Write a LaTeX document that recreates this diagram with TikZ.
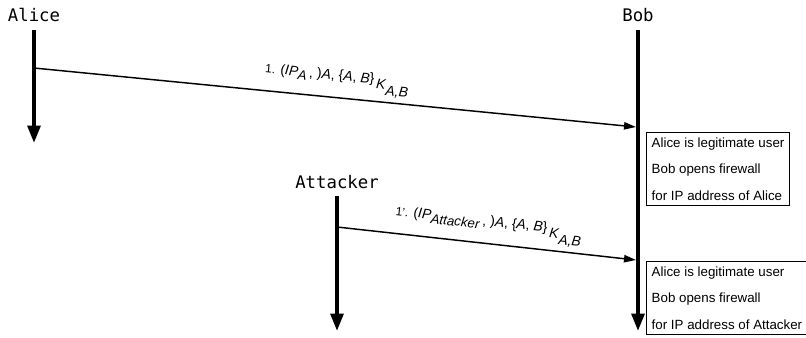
\documentclass[tikz,border=0pt]{standalone}
\usepackage{fontspec}
\setmainfont{Liberation Sans}
\newfontfamily\actorfont{DejaVu Sans Mono}
\usetikzlibrary{arrows.meta,positioning,calc}

% lowered index in the message labels
\newcommand{\lowidx}[1]{\raisebox{-3pt}{\fontsize{10}{11}\selectfont\textit{#1}}}
\newcommand{\keyidx}{\raisebox{-4pt}{\fontsize{10.5}{11}\selectfont\textit{K}\raisebox{-4pt}{\textit{A,B}}}}

\tikzset{
    actor/.style={font=\actorfont\fontsize{13}{15}\selectfont, inner sep=0pt, anchor=base},
    lifeline/.style={line width=2.8pt, -{Triangle[length=13pt,width=9.5pt]}},
    msg/.style={line width=1.1pt, -{Triangle[length=9pt,width=5.5pt]}},
    msglabel/.style={sloped, above=3.5pt, inner sep=0pt, font=\fontsize{10.5}{12}\selectfont},
    notebox/.style={draw, line width=0.6pt, anchor=north west, align=left,
        inner xsep=4pt, inner ysep=4pt, font=\fontsize{10}{19.8}\selectfont}
}

\begin{document}
\begin{tikzpicture}[x=0.75pt,y=-0.75pt]
    \clip (0,0) rectangle (806,337);
    \useasboundingbox (0,0) rectangle (806,337);
    % actors
    \node[actor] (alice) at (34,21) {Alice};
    \node[actor] (bob) at (638,21) {Bob};
    \node[actor] (attacker) at (337,188) {Attacker};
    % lifelines
    \coordinate (alice-top) at (34,30);
    \coordinate (alice-end) at (34,143);
    \coordinate (bob-top) at (638,30);
    \coordinate (bob-end) at (638,331);
    \coordinate (attacker-top) at (337,196);
    \coordinate (attacker-end) at (337,331);
    \draw[lifeline] (alice-top) -- (alice-end);
    \draw[lifeline] (bob-top) -- (bob-end);
    \draw[lifeline] (attacker-top) -- (attacker-end);
    % messages
    \coordinate (m1-from) at (34,68);
    \coordinate (m1-to) at (636,127);
    \coordinate (m2-from) at (337,227);
    \coordinate (m2-to) at (636,260);
    \draw[msg] (m1-from) -- node[msglabel] {{\fontsize{9}{10}\selectfont 1.} (\textit{IP}\lowidx{A}\,, )\textit{A}, \{\textit{A}, \textit{B}\}\,\keyidx} (m1-to);
    \draw[msg] (m2-from) -- node[msglabel] {{\fontsize{9}{10}\selectfont 1'.} (\textit{IP}\lowidx{Attacker}\,, )\textit{A}, \{\textit{A}, \textit{B}\}\,\keyidx} (m2-to);
    % notes at Bob
    \node[notebox] (note1) at (646,132) {Alice is legitimate user\\Bob opens firewall\\for IP address of Alice};
    \node[notebox] (note2) at (646,261) {Alice is legitimate user\\Bob opens firewall\\for IP address of Attacker};
\end{tikzpicture}
\end{document}
